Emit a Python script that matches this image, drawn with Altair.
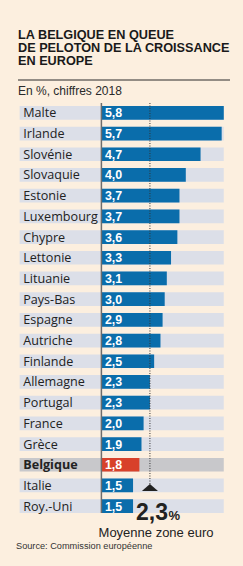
import altair as alt
import pandas as pd

countries = ["Malte", "Irlande", "Slovénie", "Slovaquie", "Estonie", "Luxembourg",
             "Chypre", "Lettonie", "Lituanie", "Pays-Bas", "Espagne", "Autriche",
             "Finlande", "Allemagne", "Portugal", "France", "Grèce", "Belgique",
             "Italie", "Roy.-Uni"]
growth = [5.8, 5.7, 4.7, 4.0, 3.7, 3.7, 3.6, 3.3, 3.1, 3.0, 2.9, 2.8, 2.5, 2.3,
          2.3, 2.0, 1.9, 1.8, 1.5, 1.5]
highlight = "Belgique"
euro_avg = 2.3
title_lines = ["LA BELGIQUE EN QUEUE", "DE PELOTON DE LA CROISSANCE", "EN EUROPE"]
subtitle = "En %, chiffres 2018"
avg_big = "2,3"
avg_pct = "%"
avg_label = "Moyenne zone euro"
source = "Source: Commission européenne"

BG = "#fcefdf"
BAND = "#dcdfe8"
BAND_HL = "#c8c8cb"
BLUE = "#0a6dab"
RED = "#d8412a"
DARK = "#222222"

band_lo = -3.875
band_hi = max(growth)

df = pd.DataFrame({"country": countries, "growth": growth})
df["label"] = [f"{v:.1f}".replace(".", ",") for v in growth]
df["hl"] = df["country"] == highlight
df["lo"] = band_lo
df["hi"] = band_hi
df["zero"] = 0.0

xs = alt.Scale(domain=[band_lo, band_hi], range=[17, 228])
ys = alt.Scale(domain=countries, range=[102.5, 516.5], paddingInner=0.34, paddingOuter=0.17)

base = alt.Chart(df)
yenc = alt.Y("country:N", scale=ys, axis=None, sort=countries)

bands = base.mark_bar().encode(
    x=alt.X("lo:Q", scale=xs, axis=None),
    x2="hi:Q",
    y=yenc,
    color=alt.condition(alt.datum.hl, alt.value(BAND_HL), alt.value(BAND)),
)

bars = base.mark_bar().encode(
    x=alt.X("zero:Q", scale=xs, axis=None),
    x2="growth:Q",
    y=yenc,
    color=alt.condition(alt.datum.hl, alt.value(RED), alt.value(BLUE)),
)

names = base.transform_filter(~alt.datum.hl).mark_text(
    align="left", baseline="middle", font="Open Sans",
    fontSize=12.6, color="#222222", dy=0.5).encode(
    x=alt.datum(band_lo + 0.17),
    y=yenc,
    text="country:N",
)
names_hl = base.transform_filter(alt.datum.hl).mark_text(
    align="left", baseline="middle", font="Open Sans", fontWeight="bold",
    fontSize=12.6, color="#222222", dy=0.5).encode(
    x=alt.datum(band_lo + 0.17),
    y=yenc,
    text="country:N",
)

vals = base.mark_text(align="left", baseline="middle", font="Liberation Sans",
                      fontWeight="bold", fontSize=12.4, color="white", dx=3.5, dy=0.5).encode(
    x=alt.datum(0),
    y=yenc,
    text="label:N",
)

one = pd.DataFrame({"k": [0]})

axis_line = alt.Chart(one).mark_rule(color="#6d6d6d", strokeWidth=1.5).encode(
    x=alt.datum(0), y=alt.value(103), y2=alt.value(513)
)

avg_line = alt.Chart(one).mark_rule(color="#333333", strokeWidth=1, strokeDash=[1, 1.5]).encode(
    x=alt.datum(euro_avg), y=alt.value(103), y2=alt.value(485)
)

tri = alt.Chart(one).mark_point(shape="M-1,0.45L1,0.45L0,-0.45Z", filled=True,
                                size=256, color=DARK, opacity=1).encode(
    x=alt.datum(euro_avg), y=alt.value(487.5)
)

def txt(s, x, y, **kw):
    return alt.Chart(pd.DataFrame({"t": [s]})).mark_text(**kw).encode(
        x=alt.value(x), y=alt.value(y), text="t:N"
    )

big = txt(avg_big, 168, 520, align="right", baseline="alphabetic",
          font="Liberation Sans", fontWeight="bold", fontSize=23, color=DARK)
pct = txt(avg_pct, 168.5, 520, align="left", baseline="alphabetic",
          font="Liberation Sans", fontWeight="bold", fontSize=13, color=DARK)
avg_txt = txt(avg_label, 156, 537, align="center", baseline="alphabetic",
              font="Liberation Sans", fontSize=13, color=DARK)
src = txt(source, 16, 548.5, align="left", baseline="alphabetic",
          font="Liberation Sans", fontSize=9.2, color="#333333")

titles = [txt(line, 18, 38.5 + i * 13.3, align="left", baseline="alphabetic",
              font="Liberation Sans", fontWeight="bold", fontSize=12.7, color="#1a1a1a")
          for i, line in enumerate(title_lines)]

sep = alt.Chart(one).mark_rule(color="#2a2a2a", strokeWidth=1).encode(
    x=alt.value(18), x2=alt.value(230), y=alt.value(80)
)

sub = txt(subtitle, 18, 94.5, align="left", baseline="alphabetic",
          font="Liberation Sans", fontSize=12, color="#2a2a2a")

chart = alt.layer(
    bands, bars, axis_line, avg_line, tri, names, names_hl, vals, big, pct, avg_txt, src,
    *titles, sep, sub
).properties(
    width=243, height=566, padding=0, autosize=alt.AutoSizeParams(type="none"),
    background=BG
).configure_view(stroke=None)

chart.save("out.html", embed_options={"renderer": "svg", "actions": False})
